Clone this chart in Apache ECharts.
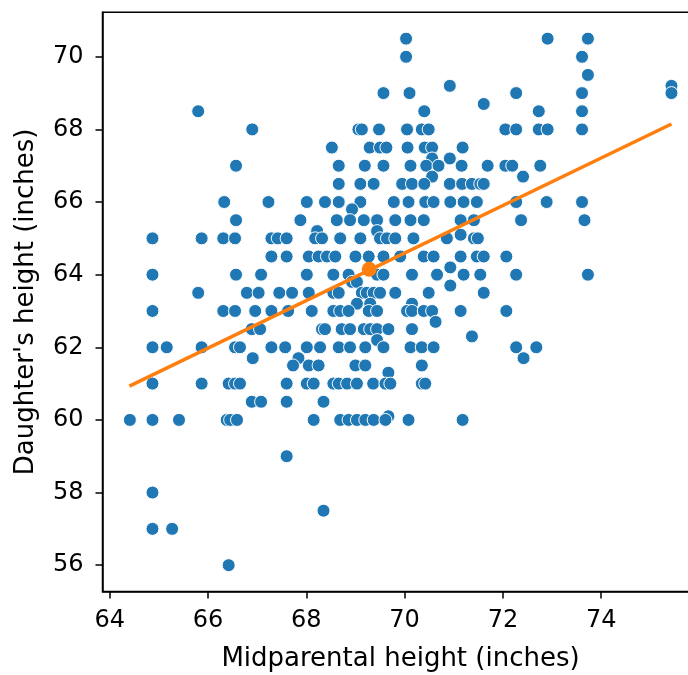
<!DOCTYPE html>
<html><head><meta charset="utf-8">
<script src="https://cdn.jsdelivr.net/npm/echarts@6/dist/echarts.min.js"></script>
<style>html,body{margin:0;padding:0;background:#fff}#c{width:688px;height:675px}</style>
</head><body><div id="c"></div>
<script>
// Daughter height rows (inches) and the midparental heights observed in each row
const daughterRows = [70.5, 70, 69.5, 69.2, 69, 68.7, 68.5, 68, 67.5, 67.2, 67, 66.7, 66.5, 66, 65.8, 65.5, 65.2, 65.1, 65, 64.5, 64.2, 64, 63.8, 63.7, 63.5, 63.2, 63, 62.7, 62.5, 62.3, 62.2, 62, 61.7, 61.5, 61.3, 61, 60.5, 60.1, 60, 59, 58, 57.5, 57, 56];
const midparentByRow = [
  [70.03, 72.91, 73.73],
  [70.03, 73.61],
  [73.73],
  [70.92, 75.43],
  [69.57, 70.10, 72.27, 73.61, 75.43],
  [71.61],
  [65.80, 70.40, 72.73, 73.61],
  [66.90, 69.06, 69.13, 69.48, 70.05, 70.35, 70.49, 72.05, 72.27, 72.73, 72.91, 73.61],
  [68.52, 69.29, 69.50, 69.63, 70.06, 70.41, 70.56, 71.18],
  [70.56, 70.92],
  [66.57, 68.66, 69.19, 69.57, 70.12, 70.44, 70.69, 71.16, 71.69, 72.05, 72.19, 72.76],
  [70.56, 72.41],
  [68.66, 69.10, 69.37, 69.95, 70.15, 70.40, 70.92, 71.17, 71.37, 71.54, 71.61],
  [66.33, 67.23, 68.01, 68.38, 68.66, 69.10, 69.78, 70.08, 70.42, 70.59, 70.93, 71.20, 71.47, 72.27, 72.89, 73.61],
  [68.93],
  [66.57, 67.88, 68.62, 68.89, 69.17, 69.44, 69.81, 70.12, 70.39, 71.14, 71.41, 72.37, 73.66],
  [68.22, 69.44],
  [71.14],
  [64.87, 65.87, 66.31, 66.55, 67.29, 67.42, 67.60, 68.18, 68.32, 68.69, 69.10, 69.50, 69.64, 69.81, 70.18, 70.86, 71.41, 71.49],
  [67.29, 67.60, 68.05, 68.25, 68.42, 68.59, 69.00, 69.27, 69.57, 69.91, 70.39, 70.59, 71.14, 71.47, 71.61, 72.07],
  [70.93],
  [64.87, 66.57, 67.08, 68.01, 68.55, 68.86, 69.44, 69.57, 70.15, 70.66, 71.20, 71.54, 72.27, 73.73],
  [68.93, 69.03],
  [70.93],
  [65.80, 66.79, 67.03, 67.45, 67.71, 68.05, 68.55, 68.66, 69.13, 69.23, 69.37, 69.50, 69.81, 70.49, 71.61],
  [69.03, 69.30, 70.15],
  [64.87, 66.31, 66.55, 66.96, 67.29, 67.63, 68.11, 68.55, 68.69, 68.86, 69.27, 69.44, 70.05, 70.15, 70.39, 70.56, 71.14, 72.07],
  [70.63],
  [66.89, 67.06, 68.32, 68.38, 68.72, 68.89, 69.17, 69.30, 69.44, 69.67, 70.15],
  [71.37],
  [69.44],
  [64.87, 65.16, 65.87, 66.55, 66.65, 67.29, 67.57, 68.01, 68.28, 68.66, 68.89, 69.20, 69.57, 70.12, 70.35, 70.59, 72.27, 72.68],
  [66.91, 67.84, 72.42],
  [67.73, 68.05, 68.25, 69.00, 69.20, 70.35],
  [69.67],
  [64.87, 65.87, 66.42, 66.55, 66.65, 67.60, 68.01, 68.15, 68.55, 68.66, 68.83, 69.03, 69.36, 69.61, 69.71, 70.35, 70.42],
  [66.89, 67.08, 67.60, 68.35],
  [69.67],
  [64.41, 64.87, 65.41, 66.38, 66.45, 66.59, 68.15, 68.69, 68.86, 69.03, 69.20, 69.37, 69.61, 70.08, 71.18],
  [67.60],
  [64.87],
  [68.35],
  [64.87, 65.27],
  [66.42]
];
const xTicks = [64, 66, 68, 70, 72, 74];
const yTicks = [56, 58, 60, 62, 64, 66, 68, 70];
const fitX = [64.40, 75.43];
const fitY = [60.93, 68.15];
const meanPoint = [69.28, 64.15];
const xLimits = [63.853, 75.98];
const yLimits = [55.275, 71.225];

const points = [];
daughterRows.forEach((y, i) => midparentByRow[i].forEach(x => points.push([x, y])));

const FONT = 'DejaVu Sans';
const chart = echarts.init(document.getElementById('c'), null, {renderer: 'canvas'});
chart.setOption({
  animation: false,
  backgroundColor: '#fff',
  grid: {left: 102.5, top: 12.3, width: 596, height: 579.2, outerBoundsMode: 'none', containLabel: false,
         show: true, borderColor: '#000', borderWidth: 1.5, backgroundColor: 'transparent'},
  xAxis: {
    type: 'value', min: xLimits[0], max: xLimits[1],
    axisLine: {show: true, onZero: false, lineStyle: {color: '#000', width: 1.5}},
    axisTick: {show: true, length: 7, customValues: xTicks, lineStyle: {color: '#000', width: 1.5}},
    axisLabel: {customValues: xTicks, fontSize: 24, color: '#000', fontFamily: FONT, margin: 17},
    splitLine: {show: false},
    name: 'Midparental height (inches)', nameLocation: 'middle', nameGap: 55,
    nameTextStyle: {fontSize: 26, color: '#000', fontFamily: FONT}
  },
  yAxis: {
    type: 'value', min: yLimits[0], max: yLimits[1],
    axisLine: {show: true, onZero: false, lineStyle: {color: '#000', width: 1.5}},
    axisTick: {show: true, length: 7, customValues: yTicks, lineStyle: {color: '#000', width: 1.5}},
    axisLabel: {customValues: yTicks, fontSize: 24, color: '#000', fontFamily: FONT, margin: 19},
    splitLine: {show: false},
    name: "Daughter's height (inches)", nameLocation: 'middle', nameGap: 63,
    nameTextStyle: {fontSize: 26, color: '#000', fontFamily: FONT}
  },
  series: [
    {type: 'scatter', data: points, symbolSize: 13, z: 2,
     itemStyle: {color: '#1f77b4', borderColor: '#fff', borderWidth: 1, opacity: 1},
     emphasis: {disabled: true}},
    {type: 'line', data: [[fitX[0], fitY[0]], [fitX[1], fitY[1]]], showSymbol: false, z: 3,
     lineStyle: {color: '#ff7f0e', width: 3.5}, emphasis: {disabled: true}},
    {type: 'scatter', data: [meanPoint], symbolSize: 15, z: 4,
     itemStyle: {color: '#ff7f0e', opacity: 1}, emphasis: {disabled: true}}
  ]
});
</script></body></html>
